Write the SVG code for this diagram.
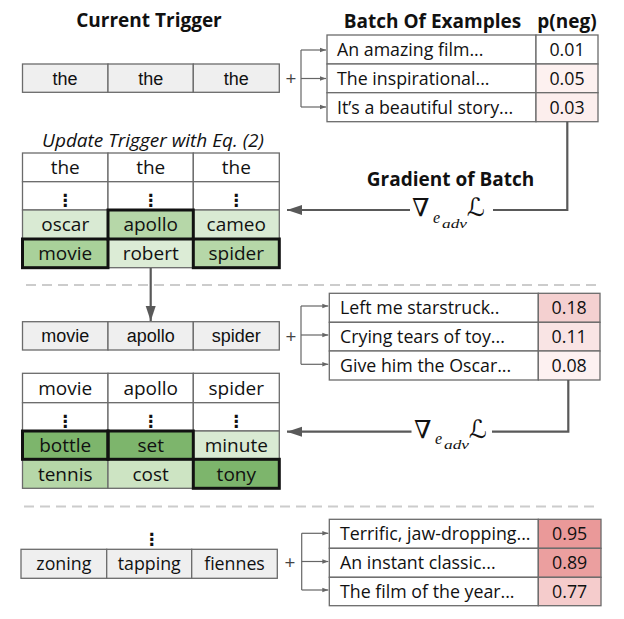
<svg xmlns="http://www.w3.org/2000/svg" width="624" height="619" viewBox="0 0 624 619">
<style>
.bg{fill:#ffffff}
.cell{stroke:#6b6b6b;stroke-width:1.3}
.trig{fill:#efefef;stroke:#6b6b6b;stroke-width:1.3}
.thick{fill:none;stroke:#111;stroke-width:3}
.t{font-family:"Open Sans","Noto Sans",sans-serif;font-size:17.8px;fill:#111}
.tb{font-family:"Open Sans","Noto Sans",sans-serif;font-size:19px;fill:#111;text-anchor:middle}
.ar{font-family:"Liberation Sans",Arial,sans-serif;font-size:18px;fill:#111;text-anchor:middle}
.ts{font-family:"Open Sans","Noto Sans",sans-serif;font-size:17.8px;fill:#111;text-anchor:middle}
.hd{font-family:"Open Sans","Noto Sans",sans-serif;font-size:19px;font-weight:bold;fill:#111;text-anchor:middle}
.it{font-family:"Open Sans","Noto Sans",sans-serif;font-size:19px;font-style:italic;fill:#111;text-anchor:middle}
.dots{font-family:"DejaVu Sans",sans-serif;font-size:17px;font-weight:bold;fill:#111;text-anchor:middle}
.plus{font-family:"Open Sans","Noto Sans",sans-serif;font-size:19px;fill:#444;text-anchor:middle}
.m{font-family:"DejaVu Serif","DejaVu Sans",serif;fill:#111}
.mi{font-family:"Liberation Serif","DejaVu Serif",serif;font-style:italic;fill:#111}
.dash{stroke:#cccccc;stroke-width:2;stroke-dasharray:10 6;fill:none}
.br{fill:none;stroke:#666;stroke-width:1.2}
.big{fill:none;stroke:#595959;stroke-width:2.2}
</style>
<defs>
<marker id="sa" markerUnits="userSpaceOnUse" markerWidth="7" markerHeight="6" refX="6" refY="3" orient="auto">
<path d="M0,0.8 L6,3 L0,5.2 z" fill="#666"/>
</marker>
<marker id="ba" markerUnits="userSpaceOnUse" markerWidth="16" markerHeight="12" refX="15" refY="5" orient="auto">
<path d="M0,0 L15,5 L0,10 z" fill="#595959"/>
</marker>
</defs>
<rect class="bg" x="0" y="0" width="624" height="619"/>

<g id="title-current-trigger"><text class="hd" x="149" y="26.5">Current Trigger</text></g>
<g id="title-batch"><text class="hd" x="432.5" y="28">Batch Of Examples</text><text class="hd" x="567" y="28">p(neg)</text></g>

<!-- Trigger row 1 -->
<g id="trigger-1">
<rect class="trig" x="22.5" y="64" width="85.5" height="28.3"/>
<rect class="trig" x="108" y="64" width="85.3" height="28.3"/>
<rect class="trig" x="193.3" y="64" width="86" height="28.3"/>
<text class="ar" x="65" y="84.5">the</text>
<text class="ar" x="150.7" y="84.5">the</text>
<text class="ar" x="236.3" y="84.5">the</text>
<text class="plus" x="291" y="84.5">+</text>
</g>

<!-- Batch 1 -->
<g id="batch-1">
<rect class="cell" x="327" y="35" width="209" height="29" fill="#fff"/>
<rect class="cell" x="536" y="35" width="62" height="29" fill="#ffffff"/>
<rect class="cell" x="327" y="64" width="209" height="28.7" fill="#fff"/>
<rect class="cell" x="536" y="64" width="62" height="28.7" fill="#fdf1f0"/>
<rect class="cell" x="327" y="92.7" width="209" height="29" fill="#fff"/>
<rect class="cell" x="536" y="92.7" width="62" height="29" fill="#fceeed"/>
<text class="t" x="337" y="56">An amazing film...</text>
<text class="t" x="337" y="84.8">The inspirational...</text>
<text class="t" x="337" y="113.8">It’s a beautiful story...</text>
<text class="ts" x="567" y="56">0.01</text>
<text class="ts" x="567" y="84.8">0.05</text>
<text class="ts" x="567" y="113.8">0.03</text>
</g>

<g id="label-update"><text class="it" x="153" y="146.5">Update Trigger with Eq. (2)</text></g>

<!-- Update table 1 -->
<g id="table-1">
<rect class="cell" x="22.5" y="153" width="85.5" height="28.7" fill="#fff"/>
<rect class="cell" x="108" y="153" width="85.3" height="28.7" fill="#fff"/>
<rect class="cell" x="193.3" y="153" width="86" height="28.7" fill="#fff"/>
<rect class="cell" x="22.5" y="181.7" width="85.5" height="28.3" fill="#fff"/>
<rect class="cell" x="108" y="181.7" width="85.3" height="28.3" fill="#fff"/>
<rect class="cell" x="193.3" y="181.7" width="86" height="28.3" fill="#fff"/>
<rect class="cell" x="22.5" y="210" width="85.5" height="29" fill="#d9ead3"/>
<rect class="cell" x="108" y="210" width="85.3" height="29" fill="#b6d7a8"/>
<rect class="cell" x="193.3" y="210" width="86" height="29" fill="#d9ead3"/>
<rect class="cell" x="22.5" y="239" width="85.5" height="28.7" fill="#a9d19a"/>
<rect class="cell" x="108" y="239" width="85.3" height="28.7" fill="#dcecd6"/>
<rect class="cell" x="193.3" y="239" width="86" height="28.7" fill="#b6d7a8"/>
<rect class="thick" x="108" y="210" width="85.3" height="29"/>
<rect class="thick" x="22.5" y="239" width="85.5" height="28.7"/>
<rect class="thick" x="193.3" y="239" width="86" height="28.7"/>
<text class="tb" x="65.2" y="174">the</text>
<text class="tb" x="150.7" y="174">the</text>
<text class="tb" x="236.3" y="174">the</text>
<text class="dots" x="65.2" y="206">⋮</text>
<text class="dots" x="150.7" y="206">⋮</text>
<text class="dots" x="236.3" y="206">⋮</text>
<text class="tb" x="65.2" y="231.3">oscar</text>
<text class="tb" x="150.7" y="231.3">apollo</text>
<text class="tb" x="236.3" y="231.3">cameo</text>
<text class="tb" x="65.2" y="260">movie</text>
<text class="tb" x="150.7" y="260">robert</text>
<text class="tb" x="236.3" y="260">spider</text>
</g>

<g id="label-gradient"><text class="hd" x="450.5" y="186">Gradient of Batch</text></g>
<g id="grad-1">
<text class="m" x="412" y="216" font-size="25">∇</text>
<text class="mi" x="433" y="222.5" font-size="16">e</text>
<text class="mi" x="442" y="227.5" font-size="13" textLength="25" lengthAdjust="spacingAndGlyphs">adv</text>
<text class="m" x="467" y="216" font-size="25">ℒ</text>
</g>

<!-- Trigger row 2 -->
<g id="trigger-2">
<rect class="trig" x="22.5" y="321.7" width="85.5" height="28.3"/>
<rect class="trig" x="108" y="321.7" width="85.3" height="28.3"/>
<rect class="trig" x="193.3" y="321.7" width="86" height="28.3"/>
<text class="ar" x="65.2" y="342.3">movie</text>
<text class="ar" x="150.7" y="342.3">apollo</text>
<text class="ar" x="236.3" y="342.3">spider</text>
<text class="plus" x="291" y="342.5">+</text>
</g>

<!-- Batch 2 -->
<g id="batch-2">
<rect class="cell" x="329.3" y="293.3" width="209" height="29" fill="#fff"/>
<rect class="cell" x="538.3" y="293.3" width="61.7" height="29" fill="#f4d0d0"/>
<rect class="cell" x="329.3" y="322.3" width="209" height="28.7" fill="#fff"/>
<rect class="cell" x="538.3" y="322.3" width="61.7" height="28.7" fill="#f9e4e4"/>
<rect class="cell" x="329.3" y="351" width="209" height="29" fill="#fff"/>
<rect class="cell" x="538.3" y="351" width="61.7" height="29" fill="#fdf1f1"/>
<text class="t" x="340" y="314.3">Left me starstruck..</text>
<text class="t" x="340" y="343">Crying tears of toy...</text>
<text class="t" x="340" y="371.8">Give him the Oscar...</text>
<text class="ts" x="569.2" y="314.3">0.18</text>
<text class="ts" x="569.2" y="343">0.11</text>
<text class="ts" x="569.2" y="371.8">0.08</text>
</g>

<!-- Update table 2 -->
<g id="table-2">
<rect class="cell" x="22.5" y="373.3" width="85.5" height="29.4" fill="#fff"/>
<rect class="cell" x="108" y="373.3" width="85.3" height="29.4" fill="#fff"/>
<rect class="cell" x="193.3" y="373.3" width="86" height="29.4" fill="#fff"/>
<rect class="cell" x="22.5" y="402.7" width="85.5" height="28.3" fill="#fff"/>
<rect class="cell" x="108" y="402.7" width="85.3" height="28.3" fill="#fff"/>
<rect class="cell" x="193.3" y="402.7" width="86" height="28.3" fill="#fff"/>
<rect class="cell" x="22.5" y="431" width="85.5" height="28.3" fill="#7db56c"/>
<rect class="cell" x="108" y="431" width="85.3" height="28.3" fill="#7db56c"/>
<rect class="cell" x="193.3" y="431" width="86" height="28.3" fill="#d9ead3"/>
<rect class="cell" x="22.5" y="459.3" width="85.5" height="29" fill="#b6d7a8"/>
<rect class="cell" x="108" y="459.3" width="85.3" height="29" fill="#cde4c3"/>
<rect class="cell" x="193.3" y="459.3" width="86" height="29" fill="#7db56c"/>
<rect class="thick" x="22.5" y="431" width="85.5" height="28.3"/>
<rect class="thick" x="108" y="431" width="85.3" height="28.3"/>
<rect class="thick" x="193.3" y="459.3" width="86" height="29"/>
<text class="tb" x="65.2" y="394.8">movie</text>
<text class="tb" x="150.7" y="394.8">apollo</text>
<text class="tb" x="236.3" y="394.8">spider</text>
<text class="dots" x="65.2" y="427">⋮</text>
<text class="dots" x="150.7" y="427">⋮</text>
<text class="dots" x="236.3" y="427">⋮</text>
<text class="tb" x="65.2" y="452">bottle</text>
<text class="tb" x="150.7" y="452">set</text>
<text class="tb" x="236.3" y="452">minute</text>
<text class="tb" x="65.2" y="480.6">tennis</text>
<text class="tb" x="150.7" y="480.6">cost</text>
<text class="tb" x="236.3" y="480.6">tony</text>
</g>

<g id="grad-2">
<text class="m" x="414" y="437.7" font-size="25">∇</text>
<text class="mi" x="435" y="444.2" font-size="16">e</text>
<text class="mi" x="444" y="449.2" font-size="13" textLength="25" lengthAdjust="spacingAndGlyphs">adv</text>
<text class="m" x="469" y="437.7" font-size="25">ℒ</text>
</g>

<!-- Row 3 -->
<g id="ellipsis-3"><text class="dots" x="151.7" y="545" font-size="30">⋮</text></g>
<g id="trigger-3">
<rect class="trig" x="21" y="549.3" width="85.7" height="29"/>
<rect class="trig" x="106.7" y="549.3" width="85" height="29"/>
<rect class="trig" x="191.7" y="549.3" width="85.6" height="29"/>
<text class="ts" x="63.8" y="570">zoning</text>
<text class="ts" x="149.2" y="570">tapping</text>
<text class="ts" x="234.5" y="570">fiennes</text>
<text class="plus" x="290" y="568.5">+</text>
</g>

<g id="batch-3">
<rect class="cell" x="329.3" y="519.3" width="209" height="29" fill="#fff"/>
<rect class="cell" x="538.3" y="519.3" width="62.7" height="29" fill="#ea9999"/>
<rect class="cell" x="329.3" y="548.3" width="209" height="29" fill="#fff"/>
<rect class="cell" x="538.3" y="548.3" width="62.7" height="29" fill="#eb9f9f"/>
<rect class="cell" x="329.3" y="577.3" width="209" height="28.4" fill="#fff"/>
<rect class="cell" x="538.3" y="577.3" width="62.7" height="28.4" fill="#f5cccc"/>
<text class="t" x="340" y="540.3">Terrific, jaw-dropping...</text>
<text class="t" x="340" y="569.3">An instant classic...</text>
<text class="t" x="340" y="597.8">The film of the year...</text>
<text class="ts" x="569.7" y="540.3">0.95</text>
<text class="ts" x="569.7" y="569.3">0.89</text>
<text class="ts" x="569.7" y="597.8">0.77</text>
</g>

<g id="connectors">
<line class="dash" x1="26" y1="285" x2="600" y2="285"/>
<line class="dash" x1="24" y1="506.5" x2="598" y2="506.5"/>
<!-- brackets -->
<path class="br" d="M301,50 V107"/>
<path class="br" d="M301,50 H326" marker-end="url(#sa)"/>
<path class="br" d="M301,78.5 H326" marker-end="url(#sa)"/>
<path class="br" d="M301,107 H326" marker-end="url(#sa)"/>
<path class="br" d="M301,306 V364.3"/>
<path class="br" d="M301,306 H328.3" marker-end="url(#sa)"/>
<path class="br" d="M301,335 H328.3" marker-end="url(#sa)"/>
<path class="br" d="M301,364.3 H328.3" marker-end="url(#sa)"/>
<path class="br" d="M301.7,533.3 V590"/>
<path class="br" d="M301.7,533.3 H328.3" marker-end="url(#sa)"/>
<path class="br" d="M301.7,561.5 H328.3" marker-end="url(#sa)"/>
<path class="br" d="M301.7,590 H328.3" marker-end="url(#sa)"/>
<!-- gradient arrows -->
<path class="big" d="M567.3,121.7 V210 H493"/>
<path class="big" d="M410,210 H287" marker-end="url(#ba)"/>
<path class="big" d="M568.3,380 V431.7 H492"/>
<path class="big" d="M411.5,431.7 H287" marker-end="url(#ba)"/>
<!-- update arrow -->
<path class="big" d="M150.7,268 V321" marker-end="url(#ba)"/>
</g>
</svg>
